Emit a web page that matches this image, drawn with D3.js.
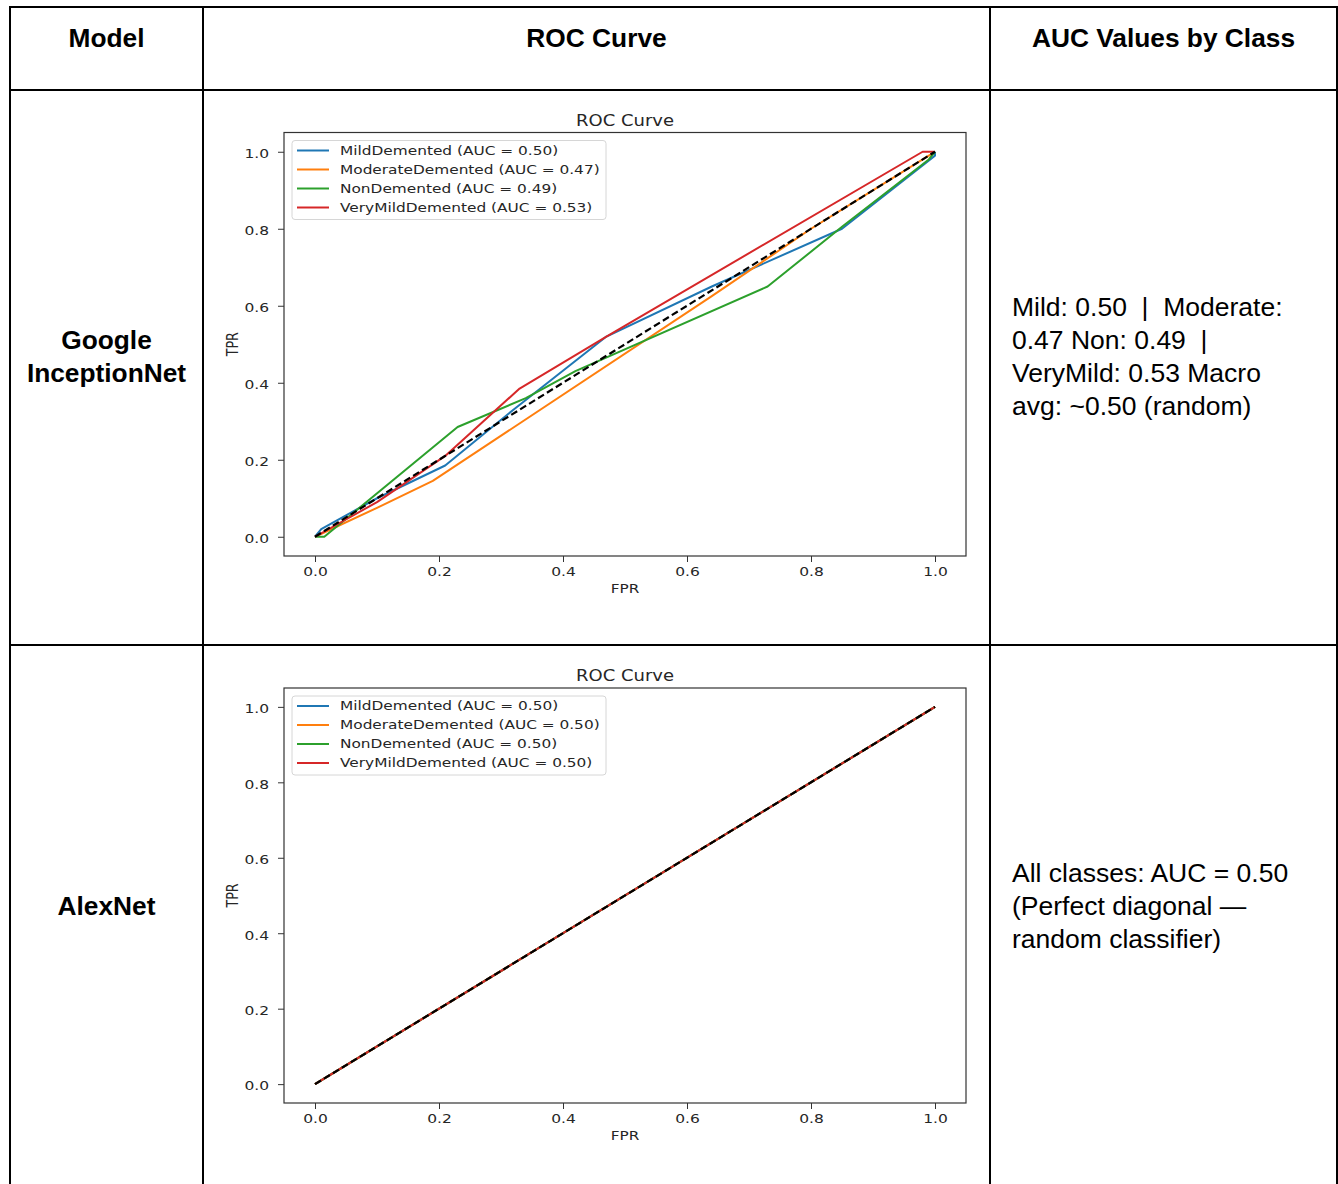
<!DOCTYPE html>
<html>
<head>
<meta charset="utf-8">
<script src="https://cdn.jsdelivr.net/npm/d3@7"></script>
<style>
  html, body { margin: 0; padding: 0; background: #fff; }
  svg { display: block; }
</style>
</head>
<body>
<svg id="chart" width="1338" height="1184"></svg>
<script>
// ---------------- DATA ----------------
const headerLabels = ["Model", "ROC Curve", "AUC Values by Class"];
const modelNames = [["Google", "InceptionNet"], ["AlexNet"]];
const classNames = ["MildDemented", "ModerateDemented", "NonDemented", "VeryMildDemented"];
const inceptionAUC = [0.50, 0.47, 0.49, 0.53];
const alexnetAUC = [0.50, 0.50, 0.50, 0.50];

// InceptionNet ROC points [FPR, TPR]
const inceptionMild = [[0, 0], [0.01, 0.02], [0.1, 0.1], [0.21, 0.185], [0.32, 0.33], [0.47, 0.52], [0.64, 0.65], [0.85, 0.80], [1.0, 0.99], [1.0, 1.0]];
const inceptionModerate = [[0, 0], [0.1, 0.075], [0.19, 0.145], [0.64, 0.625], [0.80, 0.80], [0.99, 0.99], [1.0, 1.0]];
const inceptionNon = [[0, 0], [0.015, 0.0], [0.23, 0.285], [0.34, 0.36], [0.42, 0.43], [0.73, 0.65], [0.85, 0.805], [0.99, 0.98], [1.0, 1.0]];
const inceptionVeryMild = [[0, 0], [0.1, 0.09], [0.21, 0.21], [0.33, 0.385], [0.47, 0.52], [0.98, 1.0], [1.0, 1.0]];

// AlexNet ROC points [FPR, TPR]
const alexnetMild = [[0, 0], [1, 1]];
const alexnetModerate = [[0, 0], [1, 1]];
const alexnetNon = [[0, 0], [1, 1]];
const alexnetVeryMild = [[0, 0], [1, 1]];

const chanceLine = [[0, 0], [1, 1]];
const xTicks = [0.0, 0.2, 0.4, 0.6, 0.8, 1.0];
const yTicks = [0.0, 0.2, 0.4, 0.6, 0.8, 1.0];
const chartTitle = "ROC Curve";
const xLabel = "FPR";
const yLabel = "TPR";

const inceptionSummary = ["Mild: 0.50  |  Moderate:", "0.47 Non: 0.49  |", "VeryMild: 0.53 Macro", "avg: ~0.50 (random)"];
const alexnetSummary = ["All classes: AUC = 0.50", "(Perfect diagonal \u2014", "random classifier)"];

// ---------------- STYLE ----------------
const palette = ["#1f77b4", "#ff7f0e", "#2ca02c", "#d62728"];
const tableFont = "'Liberation Sans', Arial, sans-serif";
const chartFont = "'DejaVu Sans', sans-serif";
const SX = 1.2; // horizontal stretch of the embedded plot image
const chartText = "#262626";

const svg = d3.select("#chart");

// ---------------- TABLE ----------------
const colX = [10, 203, 990, 1337];
const rowY = [7, 90, 645];
const grid = svg.append("g");
colX.forEach(x => grid.append("line").attr("x1", x).attr("x2", x).attr("y1", rowY[0] - 1).attr("y2", 1184)
  .attr("stroke", "#000").attr("stroke-width", 2));
rowY.forEach(y => grid.append("line").attr("x1", colX[0] - 1).attr("x2", colX[3] + 1).attr("y1", y).attr("y2", y)
  .attr("stroke", "#000").attr("stroke-width", 2));

// headers
headerLabels.forEach((h, i) => {
  svg.append("text")
    .attr("x", (colX[i] + colX[i + 1]) / 2).attr("y", 38).attr("dy", "0.35em")
    .attr("text-anchor", "middle").attr("font-family", tableFont)
    .attr("font-size", 26.3).attr("font-weight", "bold").attr("fill", "#000")
    .text(h);
});

// model names
const modelCenters = [356, 906];
modelNames.forEach((lines, r) => {
  const n = lines.length;
  lines.forEach((ln, k) => {
    svg.append("text")
      .attr("x", (colX[0] + colX[1]) / 2)
      .attr("y", modelCenters[r] + (k - (n - 1) / 2) * 33).attr("dy", "0.35em")
      .attr("text-anchor", "middle").attr("font-family", tableFont)
      .attr("font-size", 26.3).attr("font-weight", "bold").attr("fill", "#000")
      .text(ln);
  });
});

// summaries
[[inceptionSummary, 356], [alexnetSummary, 906]].forEach(([lines, cy]) => {
  const n = lines.length;
  lines.forEach((ln, k) => {
    svg.append("text")
      .attr("x", 1012)
      .attr("y", cy + (k - (n - 1) / 2) * 33).attr("dy", "0.35em")
      .attr("font-family", tableFont).attr("font-size", 26.5).attr("fill", "#000")
      .attr("xml:space", "preserve").style("white-space", "pre")
      .text(ln);
  });
});

// ---------------- ROC CHARTS ----------------
function stretchedText(g, x, y, str, size, anchor) {
  return g.append("text")
    .attr("transform", `translate(${x},${y}) scale(${SX},1)`)
    .attr("text-anchor", anchor || "middle").attr("dy", "0.35em")
    .attr("font-family", chartFont).attr("font-size", size).attr("fill", chartText)
    .text(str);
}

function drawROC(frame, series, aucs) {
  const g = svg.append("g");
  const x = d3.scaleLinear().domain([-0.05, 1.05]).range([frame.left, frame.right]);
  const y = d3.scaleLinear().domain([-0.05, 1.05]).range([frame.bottom, frame.top]);

  // title
  stretchedText(g, (frame.left + frame.right) / 2, frame.top - 12, chartTitle, 15);

  // axes
  const xAxis = g.append("g").attr("transform", `translate(0,${frame.bottom})`)
    .call(d3.axisBottom(x).tickValues(xTicks).tickFormat(d3.format(".1f")).tickSize(6).tickPadding(5));
  const yAxis = g.append("g").attr("transform", `translate(${frame.left},0)`)
    .call(d3.axisLeft(y).tickValues(yTicks).tickFormat(d3.format(".1f")).tickSize(6).tickPadding(9));
  [xAxis, yAxis].forEach(a => {
    a.select(".domain").remove();
    a.selectAll(".tick line").attr("stroke", "#333").attr("stroke-width", 1);
    a.selectAll(".tick text").attr("font-family", chartFont).attr("font-size", 12.9).attr("fill", chartText);
  });
  xAxis.selectAll(".tick text").attr("transform", `scale(${SX},1)`);
  yAxis.selectAll(".tick text").attr("x", -15 / SX).attr("dy", "0.45em").attr("transform", `scale(${SX},1)`);

  // axis labels
  stretchedText(g, (frame.left + frame.right) / 2, frame.bottom + 33, xLabel, 12.7);
  g.append("text")
    .attr("transform", `translate(${frame.left - 51},${(frame.top + frame.bottom) / 2}) rotate(-90) scale(1,${SX})`)
    .attr("text-anchor", "middle").attr("dy", "0.35em")
    .attr("font-family", chartFont).attr("font-size", 12.7).attr("fill", chartText)
    .text(yLabel);

  // curves
  const line = d3.line().x(d => x(d[0])).y(d => y(d[1]));
  series.forEach((s, i) => {
    g.append("path").datum(s).attr("d", line).attr("fill", "none")
      .attr("stroke", palette[i]).attr("stroke-width", 2).attr("stroke-linejoin", "round");
  });
  g.append("path").datum(chanceLine).attr("d", line).attr("fill", "none")
    .attr("stroke", "#000").attr("stroke-width", 2.2).attr("stroke-dasharray", "7,3.5");

  // frame
  g.append("rect").attr("x", frame.left).attr("y", frame.top)
    .attr("width", frame.right - frame.left).attr("height", frame.bottom - frame.top)
    .attr("fill", "none").attr("stroke", "#333").attr("stroke-width", 1.2);

  // legend
  const lg = g.append("g").attr("transform", `translate(${frame.left + 8},${frame.top + 8})`);
  lg.append("rect").attr("x", 0).attr("y", 0).attr("width", 314).attr("height", 79)
    .attr("rx", 3).attr("fill", "#fff").attr("fill-opacity", 0.85)
    .attr("stroke", "#d6d6d6").attr("stroke-width", 1);
  classNames.forEach((c, i) => {
    const ry = 10 + i * 19;
    lg.append("line").attr("x1", 5).attr("x2", 37).attr("y1", ry).attr("y2", ry)
      .attr("stroke", palette[i]).attr("stroke-width", 2);
    lg.append("text")
      .attr("transform", `translate(48,${ry}) scale(${SX},1)`)
      .attr("dy", "0.35em").attr("font-family", chartFont).attr("font-size", 12.8).attr("fill", chartText)
      .text(`${c} (AUC = ${aucs[i].toFixed(2)})`);
  });
}

drawROC({ left: 284, right: 966, top: 132.5, bottom: 556 },
  [inceptionMild, inceptionModerate, inceptionNon, inceptionVeryMild], inceptionAUC);
drawROC({ left: 284, right: 966, top: 688, bottom: 1103 },
  [alexnetMild, alexnetModerate, alexnetNon, alexnetVeryMild], alexnetAUC);
</script>
</body>
</html>
